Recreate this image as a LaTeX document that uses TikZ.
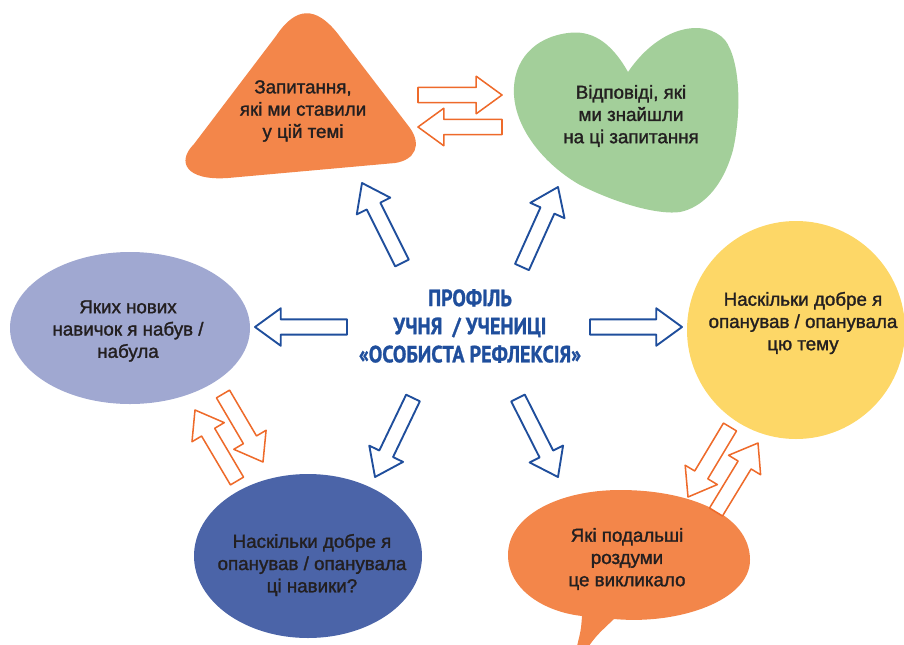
\documentclass[tikz,border=0pt]{standalone}
\usepackage{fontspec}
\usepackage{xcolor}
\usetikzlibrary{calc}
\setmainfont{Liberation Sans}
\newfontfamily\bodyfont[FakeBold=1.5]{Liberation Sans}
\newfontfamily\titlefont[FakeStretch=0.86, BoldFeatures={FakeBold=1.2}]{PT Sans}
\definecolor{ink}{HTML}{231F20}
\definecolor{navy}{HTML}{1F4E9C}
\definecolor{flame}{HTML}{EE6A2A}
\definecolor{peach}{HTML}{F3864A}
\definecolor{sage}{HTML}{A3CF9A}
\definecolor{lilac}{HTML}{A0A8D1}
\definecolor{sun}{HTML}{FDD767}
\definecolor{cobalt}{HTML}{4B64A8}
\newcommand{\shaftw}{6.5pt}
\newcommand{\headw}{16pt}
\newcommand{\headlen}{22pt}
% hollow block arrow from tail #2 to tip #3
\newcommand{\blockarrow}[3][]{%
  \draw[#1] let \p1=($(#3)!\headlen!(#2)$) in
    ($(#2)!\shaftw!90:(#3)$) -- ($(\p1)!\shaftw!90:(#3)$) -- ($(\p1)!\headw!90:(#3)$)
    -- (#3) -- ($(\p1)!\headw!-90:(#3)$) -- ($(\p1)!\shaftw!-90:(#3)$)
    -- ($(#2)!\shaftw!-90:(#3)$) -- cycle;}

\begin{document}
\begin{tikzpicture}[x=0.03cm, y=-0.03cm,
    txt/.style={align=center, text=ink, font=\bodyfont\fontsize{16}{19}\selectfont},
    bluearrow/.style={draw=navy, line width=1.6pt, fill=white, line join=round},
    redarrow/.style={draw=flame, line width=1.3pt, fill=white, line join=round}]
  \useasboundingbox (0,0) rectangle (904,644);
  % rounded triangle
  \fill[peach] (276,36) .. controls (296,6) and (316,6) .. (338,34) -- (410,128)
    .. controls (422,145) and (415,160) .. (395,163) -- (228,178)
    .. controls (186,181) and (176,162) .. (194,144) -- cycle;
  % heart
  \fill[sage] (628,72) .. controls (610,40) and (590,30) .. (568,33)
    .. controls (535,37) and (512,60) .. (514,95) .. controls (516,130) and (545,165) .. (580,185)
    .. controls (620,205) and (660,215) .. (680,212) .. controls (700,208) and (722,190) .. (733,150)
    .. controls (742,110) and (740,60) .. (725,40) .. controls (705,18) and (660,25) .. (628,72) -- cycle;
  % ellipses and circle
  \fill[lilac] (130,328) ellipse[x radius=120, y radius=76];
  \fill[sun] (796,330) circle[radius=109];
  \fill[cobalt] (308,556) ellipse[x radius=114, y radius=82];
  % speech bubble
  \fill[peach] (614,619) .. controls (680,625) and (750,600) .. (750,560)
    .. controls (750,515) and (690,490) .. (620,490) .. controls (560,490) and (508,515) .. (508,555)
    .. controls (508,590) and (545,612) .. (582,616)
    .. controls (581,630) .. (576,650) -- (586,650) .. controls (596,636) .. (614,619) -- cycle;

  \node[txt] (quest) at (303,111) {Запитання,\\які ми ставили\\у цій темі};
  \node[txt] (answ) at (631,116) {Відповіді, які\\ми знайшли\\на ці запитання};
  \node[txt] (skills) at (128,331) {Яких нових\\навичок я набув /\\набула};
  \node[txt] (topic) at (803,323) {Наскільки добре я\\опанував / опанувала\\цю тему};
  \node[txt] (mastery) at (312,565) {Наскільки добре я\\опанував / опанувала\\ці навики?};
  \node[txt] (further) at (627,559) {Які подальші\\роздуми\\це викликало};
  \node[align=center, text=navy, font=\titlefont\bfseries\fontsize{20}{24}\selectfont] (profile) at (470,326)
    {ПРОФІЛЬ\\УЧНЯ~ / УЧЕНИЦІ\\«ОСОБИСТА РЕФЛЕКСІЯ»};

  % arrows out of the centre
  \coordinate (q-tail) at (402,263); \coordinate (q-tip) at (362,183);
  \coordinate (a-tail) at (522,267); \coordinate (a-tip) at (558,187);
  \coordinate (s-tail) at (347,327); \coordinate (s-tip) at (255,327);
  \coordinate (t-tail) at (590,327); \coordinate (t-tip) at (682,327);
  \coordinate (m-tail) at (413,398); \coordinate (m-tip) at (375,477);
  \coordinate (f-tail) at (518,398); \coordinate (f-tip) at (558,477);
  \blockarrow[bluearrow]{q-tail}{q-tip}
  \blockarrow[bluearrow]{a-tail}{a-tip}
  \blockarrow[bluearrow]{s-tail}{s-tip}
  \blockarrow[bluearrow]{t-tail}{t-tip}
  \blockarrow[bluearrow]{m-tail}{m-tip}
  \blockarrow[bluearrow]{f-tail}{f-tip}

  % arrow pairs between the shapes
  \coordinate (qa1) at (418,95);  \coordinate (qa2) at (502,95);
  \coordinate (qa3) at (502,127); \coordinate (qa4) at (418,127);
  \coordinate (sm1) at (237,481); \coordinate (sm2) at (195,410);
  \coordinate (sm3) at (223,394); \coordinate (sm4) at (263,462);
  \coordinate (tf1) at (730,427); \coordinate (tf2) at (688,497);
  \coordinate (tf3) at (716,512); \coordinate (tf4) at (758,443);
  \blockarrow[redarrow]{qa1}{qa2}
  \blockarrow[redarrow]{qa3}{qa4}
  \blockarrow[redarrow]{sm1}{sm2}
  \blockarrow[redarrow]{sm3}{sm4}
  \blockarrow[redarrow]{tf1}{tf2}
  \blockarrow[redarrow]{tf3}{tf4}
\end{tikzpicture}
\end{document}
